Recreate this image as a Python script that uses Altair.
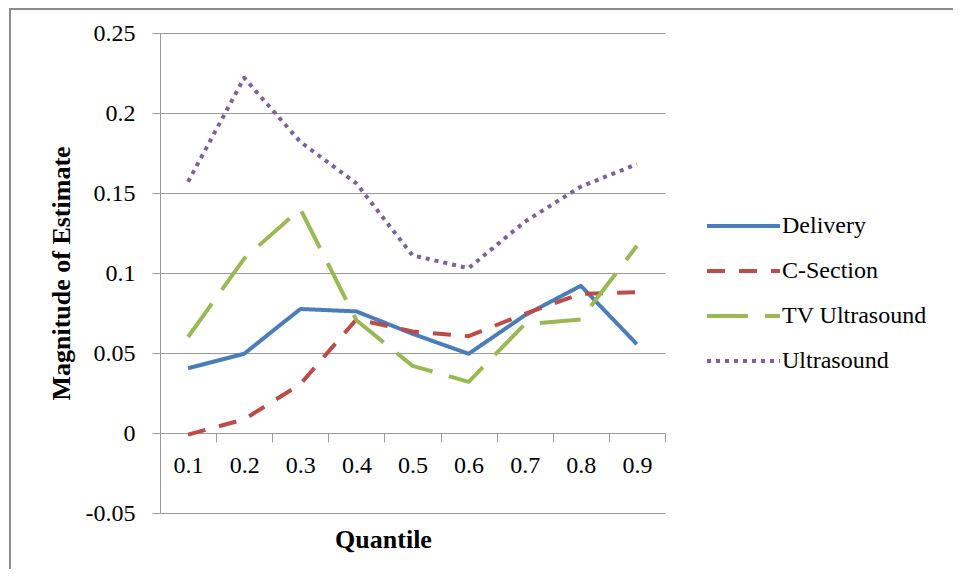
import altair as alt
import pandas as pd

quantiles = ["0.1", "0.2", "0.3", "0.4", "0.5", "0.6", "0.7", "0.8", "0.9"]
series_names = ["Delivery", "C-Section", "TV Ultrasound", "Ultrasound"]
delivery = [0.0405, 0.0495, 0.0775, 0.076, 0.062, 0.0495, 0.0735, 0.092, 0.0555]
c_section = [-0.001, 0.0085, 0.0305, 0.071, 0.0635, 0.0605, 0.0745, 0.087, 0.088]
tv_ultrasound = [0.060, 0.109, 0.140, 0.0705, 0.042, 0.032, 0.068, 0.071, 0.117]
ultrasound = [0.157, 0.222, 0.182, 0.156, 0.111, 0.103, 0.132, 0.154, 0.168]
y_ticks = [-0.05, 0, 0.05, 0.1, 0.15, 0.2, 0.25]

colors = ["#4A7EBB", "#BE4B48", "#98B954", "#7D60A0"]
dashes = [[1, 0], [18, 14], [41, 17], [4, 5]]

rows = []
for name, vals in zip(series_names, [delivery, c_section, tv_ultrasound, ultrasound]):
    for q, v in zip(quantiles, vals):
        rows.append({"Quantile": q, "value": v, "series": name})
df = pd.DataFrame(rows)
legend_df = pd.DataFrame({"series": series_names})

FONT = "Liberation Serif"
GRAY = "#9a9a9a"

color_enc = alt.Color(
    "series:N", sort=series_names,
    scale=alt.Scale(domain=series_names, range=colors), legend=None,
)
dash_enc = alt.StrokeDash(
    "series:N", sort=series_names,
    scale=alt.Scale(domain=series_names, range=dashes), legend=None,
)

lines = alt.Chart(df).mark_line(strokeWidth=4, strokeCap="butt", strokeJoin="round").encode(
    x=alt.X(
        "Quantile:N",
        sort=quantiles,
        scale=alt.Scale(type="band", paddingInner=0, paddingOuter=0),
        axis=alt.Axis(
            title="Quantile",
            labelAngle=0,
            offset=-80,
            tickBand="extent",
            tickSize=9,
            labelPadding=11,
            labelFont=FONT,
            labelFontSize=24,
            labelColor="black",
            domainColor=GRAY,
            tickColor=GRAY,
            grid=False,
            titleFont=FONT,
            titleFontSize=26,
            titleFontWeight="bold",
            titleColor="black",
            titleX=223,
            titleY=106,
            titleAlign="center",
            titleBaseline="middle",
        ),
    ),
    y=alt.Y(
        "value:Q",
        scale=alt.Scale(domain=[-0.05, 0.25], nice=False, zero=False),
        axis=alt.Axis(
            title="Magnitude of Estimate",
            values=y_ticks,
            labelExpr="replace(format(datum.value, '.2~f'), '\u2212', '-')",
            tickSize=8,
            labelPadding=17,
            labelFont=FONT,
            labelFontSize=24,
            labelColor="black",
            labelBaseline="middle",
            domainColor=GRAY,
            tickColor=GRAY,
            gridColor=GRAY,
            gridOpacity=1,
            titleFont=FONT,
            titleFontSize=26,
            titleFontWeight="bold",
            titleColor="black",
            titleAngle=-90,
            titleX=-99,
            titleY=240,
            titleAlign="center",
            titleBaseline="middle",
        ),
    ),
    color=color_enc,
    strokeDash=dash_enc,
    order=alt.Order("Quantile:N"),
)

# legend (built from the series names)
leg_y = alt.Y(
    "series:N", sort=series_names,
    scale=alt.Scale(type="point", padding=0, range=[193, 328]), axis=None,
)
leg_symbols = alt.Chart(legend_df).mark_rule(strokeWidth=4, strokeCap="butt").encode(
    y=leg_y, x=alt.value(547), x2=alt.value(620), color=color_enc, strokeDash=dash_enc,
)
leg_labels = alt.Chart(legend_df).mark_text(
    align="left", baseline="middle", font="Times New Roman", fontSize=24, color="black"
).encode(y=leg_y, x=alt.value(622), text="series:N")

frame_left = alt.Chart(alt.Data(values=[{}])).mark_rule(color="#8c8c8c", strokeWidth=2).encode(
    x=alt.value(-150), y=alt.value(-25), y2=alt.value(560)
)
frame_top = alt.Chart(alt.Data(values=[{}])).mark_rule(color="#8c8c8c", strokeWidth=2).encode(
    x=alt.value(-151), x2=alt.value(800), y=alt.value(-24)
)

chart = alt.layer(frame_left, frame_top, lines, leg_symbols, leg_labels).resolve_scale(
    y="independent"
).properties(
    width=505,
    height=480,
    padding={"left": 152, "top": 25, "right": 288, "bottom": 56},
    autosize=alt.AutoSizeParams(type="none"),
    background="white",
).configure_view(stroke=None)

chart.save("out.html", embed_options={"renderer": "svg", "actions": False})
